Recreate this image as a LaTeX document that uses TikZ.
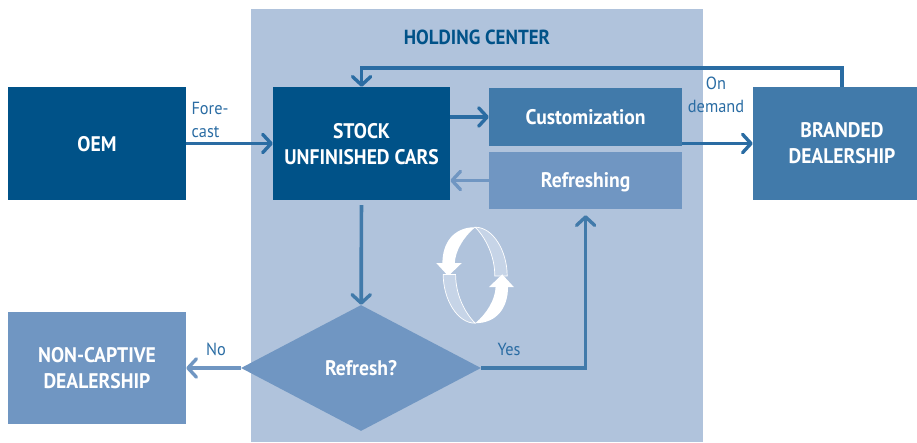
\documentclass[tikz,border=0pt]{standalone}
\usepackage{fontspec}
\setmainfont[FakeStretch=0.93]{PT Sans}
\usetikzlibrary{shapes.geometric,arrows.meta}
\definecolor{holdbg}{HTML}{B0C3DC}
\definecolor{darkblue}{HTML}{005288}
\definecolor{midblue}{HTML}{417AAA}
\definecolor{lightblue}{HTML}{7096C2}
\definecolor{linkblue}{HTML}{2A6CA3}
\definecolor{ribbon}{HTML}{C6D4E7}
\tikzset{box/.style={rectangle,text=white,font=\bfseries\fontsize{15}{18.5}\selectfont,align=center,inner sep=0pt,text depth=0pt},
  lab/.style={text=linkblue,font=\fontsize{12.5}{16}\selectfont,align=center,inner sep=0pt},
  lnk/.style={->,line width=2.6pt,draw=linkblue}}

\begin{document}
\begin{tikzpicture}[>={Straight Barb[length=6pt,width=13pt,line width=2.4pt,round]}]
    \useasboundingbox (0,0) rectangle (22.925,11.05);
    \node[box,fill=holdbg,minimum width=11.3cm,minimum height=10.825cm] (hold) at (11.925,5.4125) {};
    \node[box,fill=darkblue,minimum width=4.45cm,minimum height=2.825cm] (oem) at (2.425,7.4625) {OEM};
    \node[box,fill=darkblue,minimum width=4.425cm,minimum height=2.825cm] (stock) at (9.04,7.4625) {STOCK\\UNFINISHED CARS};
    \node[box,fill=midblue,minimum width=4.825cm,minimum height=1.45cm] (custom) at (14.64,8.125) {Customization};
    \node[box,fill=lightblue,minimum width=4.825cm,minimum height=1.425cm] (refreshing) at (14.64,6.5375) {Refreshing};
    \node[box,fill=midblue,minimum width=4.45cm,minimum height=2.825cm] (branded) at (21.05,7.4625) {BRANDED\\DEALERSHIP};
    \node[box,fill=lightblue,minimum width=4.45cm,minimum height=2.8cm] (noncaptive) at (2.425,1.85) {NON-CAPTIVE\\DEALERSHIP};
    \node[box,diamond,aspect=1.9,fill=lightblue,minimum width=6cm,minimum height=3.15cm] (refresh) at (9.025,1.85) {Refresh?};

    \node[lab,font=\bfseries\fontsize{14.5}{16}\selectfont,text=darkblue] (title) at (11.925,10.125) {HOLDING CENTER};
    \node[lab,align=left] (forecast) at (5.25,8.05) {Fore-\\cast};
    \node[lab] (ondemand) at (17.9,8.675) {On\\demand};
    \node[lab] (no) at (5.4,2.325) {No};
    \node[lab] (yes) at (12.725,2.325) {Yes};

    \coordinate (top) at (9.04,9.35);
    \coordinate (corner) at (14.64,1.85);

    \draw [lnk] (oem) to (stock);
    \draw [lnk] (stock.east |- custom) to (custom);
    \draw [lnk] (custom.east |- branded) to (branded);
    \draw [lnk,draw=lightblue] (refreshing) to (stock.east |- refreshing);
    \draw [lnk] (branded.north) |- (top) to (stock);
    \draw [lnk,draw=midblue,shorten <=0.12cm] (stock) to (refresh);
    \draw [lnk,draw=lightblue] (refresh) to (noncaptive);
    \draw [lnk,draw=midblue,shorten >=0.15cm] (refresh) -- (corner) -- (refreshing);

    % cycle icon
    \foreach \a in {0,180}{
    \begin{scope}[shift={(11.88,4.17)},rotate=\a]
        \fill[ribbon,draw=white,line width=0.5pt] (0,1.2) .. controls (0.45,1.2) and (0.8,0.6) .. (0.8,-0.02) -- (0.49,-0.02) .. controls (0.49,0.5) and (0.25,0.95) .. cycle;
        \fill[white] (0,1.2) .. controls (-0.55,1.2) and (-0.82,0.8) .. (-0.82,0.3) -- (-0.97,0.3) -- (-0.675,-0.02) -- (-0.34,0.3) -- (-0.51,0.3) .. controls (-0.5,0.6) and (-0.3,0.95) .. cycle;
    \end{scope}}
\end{tikzpicture}
\end{document}
